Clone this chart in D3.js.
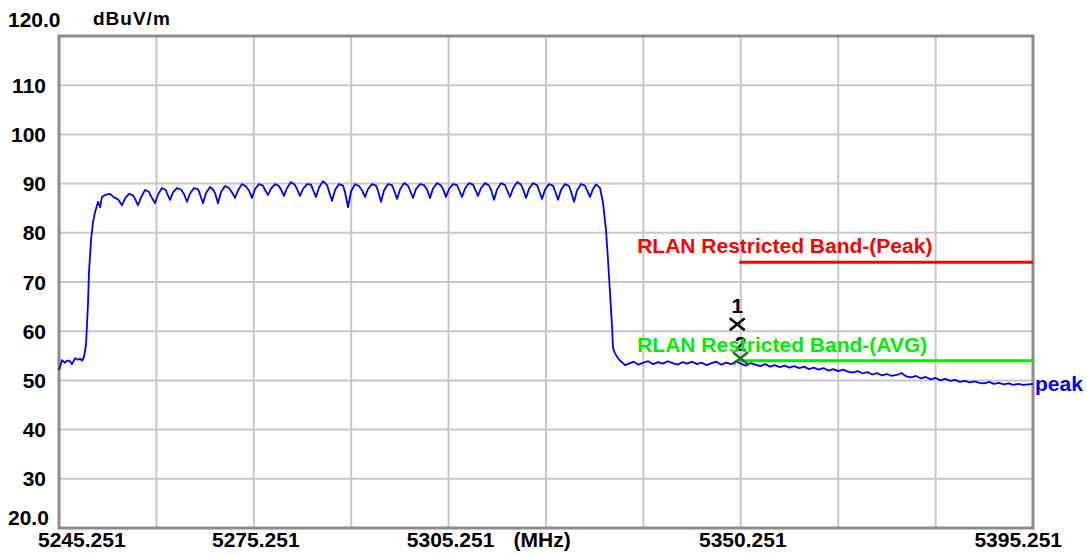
<!DOCTYPE html>
<html>
<head>
<meta charset="utf-8">
<script src="https://cdn.jsdelivr.net/npm/d3@7/dist/d3.min.js"></script>
<style>
  html, body { margin: 0; padding: 0; background: #ffffff; }
  svg { display: block; }
  text { font-family: "Liberation Sans", Arial, sans-serif; font-weight: bold; }
</style>
</head>
<body>
<svg id="chart" width="1087" height="555"></svg>
<script>
// ---------- data ----------
const freqDomain = [5245.251, 5395.251];     // MHz
const levelDomain = [20, 120];                // dBuV/m
const xTickValues = [5245.251, 5275.251, 5305.251, 5350.251, 5395.251];
const xTickLabels = ["5245.251", "5275.251", "5305.251", "5350.251", "5395.251"];
const yTickValues = [120, 110, 100, 90, 80, 70, 60, 50, 40, 30, 20];
const yTickLabels = ["120.0", "110", "100", "90", "80", "70", "60", "50", "40", "30", "20.0"];
const unitLabel = "dBuV/m";
const freqUnitLabel = "(MHz)";
const limitStart = 5350.0;
const peakLimit = 74;
const avgLimit = 54;
const peakLimitLabel = "RLAN Restricted Band-(Peak)";
const avgLimitLabel = "RLAN Restricted Band-(AVG)";
const traceName = "peak";
const markers = [
  { id: "1", freq: 5349.7, level: 61.4, color: "#000000" },
  { id: "2", freq: 5350.2, level: 54.5, color: "#1f6f1f" }
];
// peak trace: [MHz, dBuV/m]
const trace = [
  [5245.251,52.1],[5245.71,54.1],[5246.18,53.6],[5246.48,54.0],[5246.95,53.9],[5247.25,53.3],
  [5247.72,54.5],[5248.18,54.2],[5248.49,54.4],[5248.79,54.0],[5249.10,54.8],[5249.41,57.2],
  [5249.72,65.7],[5249.87,72.0],[5250.18,78.5],[5250.49,82.2],[5250.80,84.2],[5251.26,86.3],
  [5251.57,85.2],[5251.87,87.3],[5252.34,87.7],[5253.11,87.9],[5253.72,87.2],[5254.34,86.8],
  [5254.95,85.6],[5255.42,87.0],[5256.03,87.9],[5256.65,87.6],[5256.96,86.9],
  [5257.42,85.6],[5257.88,87.2],[5258.50,88.7],[5259.11,88.3],[5259.42,87.4],
  [5260.04,86.0],[5260.50,87.8],[5261.11,89.1],[5261.73,88.7],[5261.88,88.0],
  [5262.35,86.7],[5262.81,88.2],[5263.42,89.1],[5264.04,88.8],[5264.50,87.9],
  [5264.96,86.3],[5265.43,88.0],[5266.04,89.1],[5266.66,88.9],[5266.97,87.8],
  [5267.43,86.0],[5267.89,88.1],[5268.51,89.3],[5268.97,88.8],[5269.28,88.1],
  [5269.74,86.0],[5270.20,88.3],[5270.82,89.5],[5271.43,89.1],[5271.90,88.2],
  [5272.36,87.1],[5272.82,88.6],[5273.44,89.9],[5274.05,89.4],[5274.51,88.6],
  [5274.98,87.1],[5275.44,88.9],[5276.05,89.9],[5276.67,89.6],[5276.98,88.7],
  [5277.44,87.7],[5277.90,89.0],[5278.52,89.9],[5279.13,89.5],[5279.44,88.8],
  [5279.90,87.5],[5280.37,89.1],[5280.98,90.3],[5281.60,89.7],[5281.91,88.9],
  [5282.37,87.5],[5282.83,88.9],[5283.45,89.9],[5284.06,89.8],[5284.37,88.7],
  [5284.83,87.3],[5285.29,89.2],[5285.91,90.5],[5286.53,89.7],[5286.83,88.4],
  [5287.30,86.5],[5287.76,88.7],[5288.37,89.9],[5288.99,89.6],[5289.30,88.3],
  [5289.76,85.2],[5290.22,88.4],[5290.84,89.9],[5291.45,89.5],[5291.92,88.6],
  [5292.38,87.3],[5292.84,88.9],[5293.46,89.9],[5294.07,89.6],[5294.38,88.5],
  [5294.84,86.3],[5295.30,88.6],[5295.92,89.9],[5296.54,89.7],[5296.84,88.7],
  [5297.31,86.9],[5297.77,88.8],[5298.38,90.1],[5299.00,89.6],[5299.31,88.6],
  [5299.77,87.1],[5300.23,88.9],[5300.85,89.9],[5301.46,89.7],[5301.93,88.8],
  [5302.39,87.1],[5302.85,89.0],[5303.47,90.1],[5304.08,89.6],[5304.39,88.9],
  [5304.85,87.3],[5305.32,88.9],[5305.93,89.9],[5306.55,89.7],[5306.86,88.7],
  [5307.32,87.3],[5307.78,89.0],[5308.40,90.1],[5309.01,89.8],[5309.32,88.9],
  [5309.78,87.5],[5310.24,89.1],[5310.86,90.1],[5311.48,89.6],[5311.78,88.8],
  [5312.25,86.7],[5312.71,88.8],[5313.32,90.1],[5313.94,89.7],[5314.25,88.7],
  [5314.71,87.3],[5315.17,89.0],[5315.79,90.3],[5316.40,89.8],[5316.71,88.9],
  [5317.17,87.1],[5317.64,88.9],[5318.25,90.1],[5318.87,89.7],[5319.18,88.6],
  [5319.64,86.9],[5320.10,88.8],[5320.72,89.9],[5321.33,89.6],[5321.64,88.5],
  [5322.10,86.7],[5322.56,88.7],[5323.18,89.9],[5323.80,89.5],[5324.10,88.4],
  [5324.57,86.3],[5325.03,88.6],[5325.64,89.9],[5326.26,89.6],[5326.57,88.6],
  [5327.03,87.3],[5327.49,88.9],[5327.95,89.8],[5328.26,89.5],
  [5328.57,89.1],[5329.03,86.1],[5329.49,80.6],[5329.80,74.5],[5330.11,67.8],[5330.42,60.9],
  [5330.57,56.6],[5330.88,55.5],[5331.19,54.8],[5331.65,54.0],[5332.11,53.5],[5332.42,53.1],
  [5333.00,53.4],[5333.75,53.8],[5334.50,53.2],[5335.25,53.6],[5336.00,53.9],[5336.75,53.3],
  [5337.50,53.7],[5338.25,53.4],[5339.00,53.9],[5339.75,53.5],[5340.50,53.2],[5341.25,53.7],
  [5342.00,53.4],[5342.75,53.8],[5343.50,53.3],[5344.25,53.6],[5345.00,53.1],[5345.75,53.5],
  [5346.50,53.8],[5347.25,53.2],[5348.00,53.6],[5348.75,53.3],[5349.50,53.9],[5350.25,53.4],
  [5351.00,53.0],[5351.75,53.5],[5352.50,53.2],[5353.25,52.9],[5354.00,53.3],[5354.75,52.8],
  [5355.50,53.1],[5356.25,52.7],[5357.00,53.0],[5357.75,52.6],[5358.50,52.9],[5359.25,52.5],
  [5360.00,52.8],[5360.75,52.3],[5361.50,52.6],[5362.25,52.2],[5363.00,52.5],[5363.75,52.0],
  [5364.50,52.3],[5365.25,51.9],[5366.00,52.2],[5366.75,51.8],[5367.50,51.6],[5368.25,51.9],
  [5369.00,51.4],[5369.75,51.7],[5370.50,51.2],[5371.25,51.5],[5372.00,51.0],[5372.75,51.3],
  [5373.50,50.9],[5374.25,51.1],[5375.00,51.5],[5375.75,50.8],[5376.50,50.6],[5377.25,50.9],
  [5378.00,50.4],[5378.75,50.7],[5379.50,50.2],[5380.25,50.5],[5381.00,50.0],[5381.75,50.3],
  [5382.50,49.9],[5383.25,50.1],[5384.00,49.7],[5384.75,49.9],[5385.50,49.6],[5386.25,49.8],
  [5387.00,49.5],[5387.75,49.4],[5388.50,49.7],[5389.25,49.3],[5390.00,49.5],[5390.75,49.2],
  [5391.50,49.4],[5392.25,49.1],[5393.00,49.3],[5393.75,49.1],[5394.50,49.2],[5395.251,49.3]
];

// ---------- layout ----------
const svg = d3.select("#chart");
const plot = { left: 59, right: 1033, top: 36, bottom: 528 };
const x = d3.scaleLinear().domain(freqDomain).range([plot.left, plot.right]);
const y = d3.scaleLinear().domain(levelDomain).range([plot.bottom, plot.top]);
const FS = 21;

// grid
const gridX = d3.range(1, 10).map(i => freqDomain[0] + i * (freqDomain[1] - freqDomain[0]) / 10);
const gridY = yTickValues.filter(v => v !== levelDomain[0] && v !== levelDomain[1]);
const grid = svg.append("g").attr("stroke", "#c8c8c8").attr("stroke-width", 2);
grid.selectAll("line.v").data(gridX).join("line")
  .attr("x1", d => x(d)).attr("x2", d => x(d)).attr("y1", plot.top).attr("y2", plot.bottom);
grid.selectAll("line.h").data(gridY).join("line")
  .attr("x1", plot.left).attr("x2", plot.right).attr("y1", d => y(d)).attr("y2", d => y(d));

// frame
svg.append("rect")
  .attr("x", plot.left).attr("y", plot.top)
  .attr("width", plot.right - plot.left).attr("height", plot.bottom - plot.top)
  .attr("fill", "none").attr("stroke", "#8c8c8c").attr("stroke-width", 3);

// y labels
svg.append("g").selectAll("text").data(yTickValues).join("text")
  .attr("font-size", FS)
  .attr("fill", "#000")
  .attr("text-anchor", (d, i) => (i === 0 || i === yTickValues.length - 1) ? "start" : "end")
  .attr("x", (d, i) => (i === 0 || i === yTickValues.length - 1) ? 8 : 46)
  .attr("y", (d, i) => i === 0 ? y(d) - 9 : (i === yTickValues.length - 1 ? y(d) - 3 : y(d) + 7.5))
  .text((d, i) => yTickLabels[i]);

svg.append("text").attr("x", 93).attr("y", 25).attr("font-size", 19)
  .attr("letter-spacing", 1).attr("fill", "#000").text(unitLabel);

// x labels
svg.append("g").selectAll("text").data(xTickValues).join("text")
  .attr("font-size", FS).attr("fill", "#000")
  .attr("text-anchor", (d, i) => i === 0 ? "start" : (i === xTickValues.length - 1 ? "end" : "middle"))
  .attr("x", (d, i) => i === 0 ? x(d) - 21 : (i === xTickValues.length - 1 ? x(d) + 29 : x(d) + 2))
  .attr("y", 547)
  .text((d, i) => xTickLabels[i]);
svg.append("text").attr("x", x(xTickValues[2]) + 65).attr("y", 547)
  .attr("font-size", FS).attr("fill", "#000").text(freqUnitLabel);

// limit lines
svg.append("line")
  .attr("x1", x(limitStart)).attr("x2", x(freqDomain[1]))
  .attr("y1", y(peakLimit)).attr("y2", y(peakLimit))
  .attr("stroke", "#ff0000").attr("stroke-width", 3);
svg.append("line")
  .attr("x1", x(limitStart)).attr("x2", x(freqDomain[1]))
  .attr("y1", y(avgLimit)).attr("y2", y(avgLimit))
  .attr("stroke", "#00ee00").attr("stroke-width", 3);

// trace
const line = d3.line().x(d => x(d[0])).y(d => y(d[1]));
svg.append("path").datum(trace)
  .attr("d", line).attr("fill", "none")
  .attr("stroke", "#0000ff").attr("stroke-width", 1.8).attr("stroke-linejoin", "round");

svg.append("text").attr("x", x(freqDomain[1]) + 2).attr("y", y(trace[trace.length - 1][1]) + 7)
  .attr("font-size", FS).attr("fill", "#0000ff").text(traceName);

// markers
const mk = svg.append("g");
markers.forEach((m, i) => {
  const cx = x(m.freq), cy = y(m.level), s = 7.5;
  mk.append("path")
    .attr("d", `M${cx - s},${cy - s * 0.8}L${cx + s},${cy + s * 0.8}M${cx + s},${cy - s * 0.8}L${cx - s},${cy + s * 0.8}`)
    .attr("stroke", m.color).attr("stroke-width", 2.6).attr("fill", "none");
  mk.append("text").attr("x", cx).attr("y", cy - (i === 0 ? 11 : 7))
    .attr("text-anchor", "middle").attr("font-size", 21).attr("font-weight", "normal")
    .attr("fill", "#000").text(m.id);
});

// limit labels
svg.append("text").attr("x", x(limitStart) - 102).attr("y", y(peakLimit) - 9)
  .attr("font-size", FS).attr("fill", "#ff0000").text(peakLimitLabel);
svg.append("text").attr("x", x(limitStart) - 102).attr("y", y(avgLimit) - 9)
  .attr("font-size", FS).attr("fill", "#00ee00").text(avgLimitLabel);
</script>
</body>
</html>
